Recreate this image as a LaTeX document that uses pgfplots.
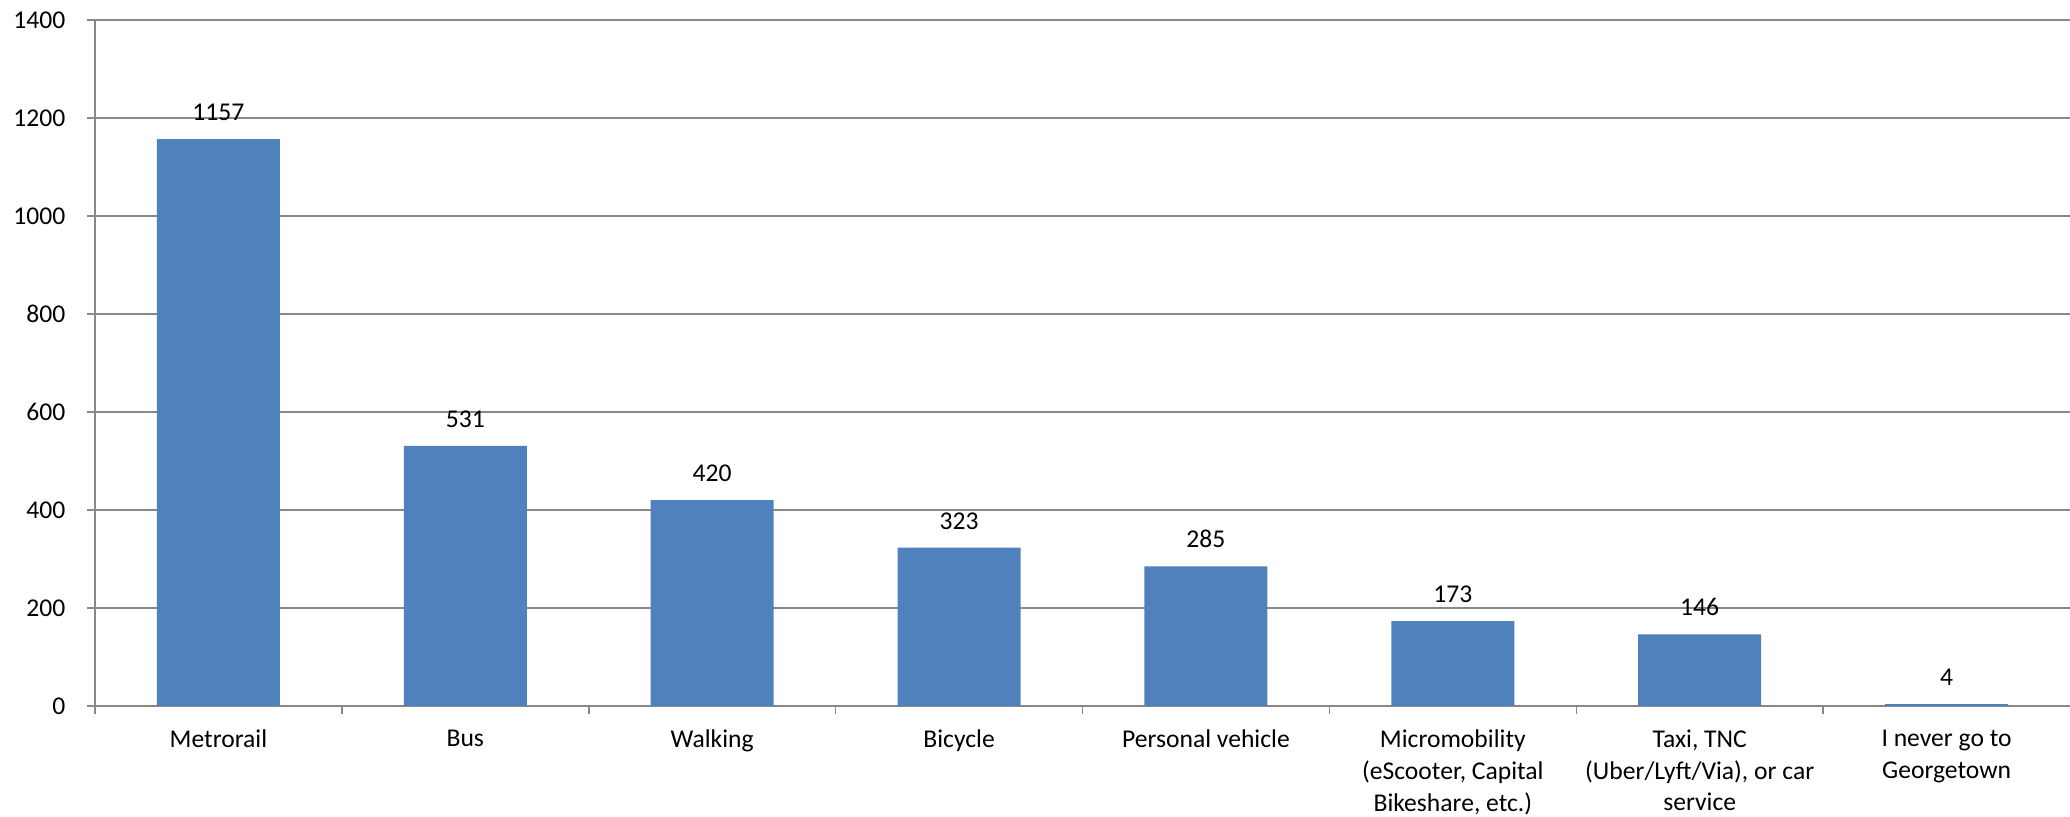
\documentclass[border=0pt]{standalone}
\usepackage{fontspec}
\setmainfont{Carlito}
\usepackage{pgfplots}
\pgfplotsset{compat=1.18}
\definecolor{barblue}{HTML}{4F81BD}
\definecolor{gridgray}{HTML}{888888}

\begin{document}
\begin{tikzpicture}
\begin{axis}[
    name=ax,
    scale only axis,
    width=987.5pt, height=343pt,
    xmin=-0.5, xmax=7.5,
    ymin=0, ymax=1400,
    ytick={0,200,...,1400},
    xtick={0,...,7},
    xticklabels={Metrorail, Bus, Walking, Bicycle, Personal vehicle,
        {Micromobility\\(eScooter, Capital\\Bikeshare, etc.)},
        {Taxi, TNC\\(Uber/Lyft/Via), or car\\service},
        {I never go to\\Georgetown}},
    minor xtick={-0.5,0.5,...,6.5},
    axis lines*=left,
    axis line style={gridgray, line width=0.75pt},
    ymajorgrids,
    major grid style={gridgray, line width=0.75pt},
    tick align=outside,
    major tick length=4pt,
    minor tick length=4pt,
    major x tick style={draw=none},
    minor x tick style={gridgray, line width=0.75pt},
    major y tick style={gridgray, line width=0.75pt},
    tick label style={font=\fontsize{12.8}{15.8}\selectfont, text=black},
    /pgf/number format/assume math mode=true,
    /pgf/number format/1000 sep={},
    xticklabel style={align=center, yshift=-4.5pt},
    yticklabel style={xshift=-7.3pt},
    ybar,
    bar width=61.5pt,
    nodes near coords,
    nodes near coords style={font=\fontsize{12.8}{15.8}\selectfont, text=black,
        anchor=south, inner sep=0pt, yshift=9pt},
]
\addplot[fill=barblue, draw=none] coordinates {
    (0,1157) (1,531) (2,420) (3,323) (4,285) (5,173) (6,146) (7,4)
};
\end{axis}
\pgfresetboundingbox
\path[use as bounding box] ([shift={(-47.5pt,-55.5pt)}]ax.south west)
    rectangle ([shift={(987.5pt,353pt)}]ax.south west);
\end{tikzpicture}
\end{document}
